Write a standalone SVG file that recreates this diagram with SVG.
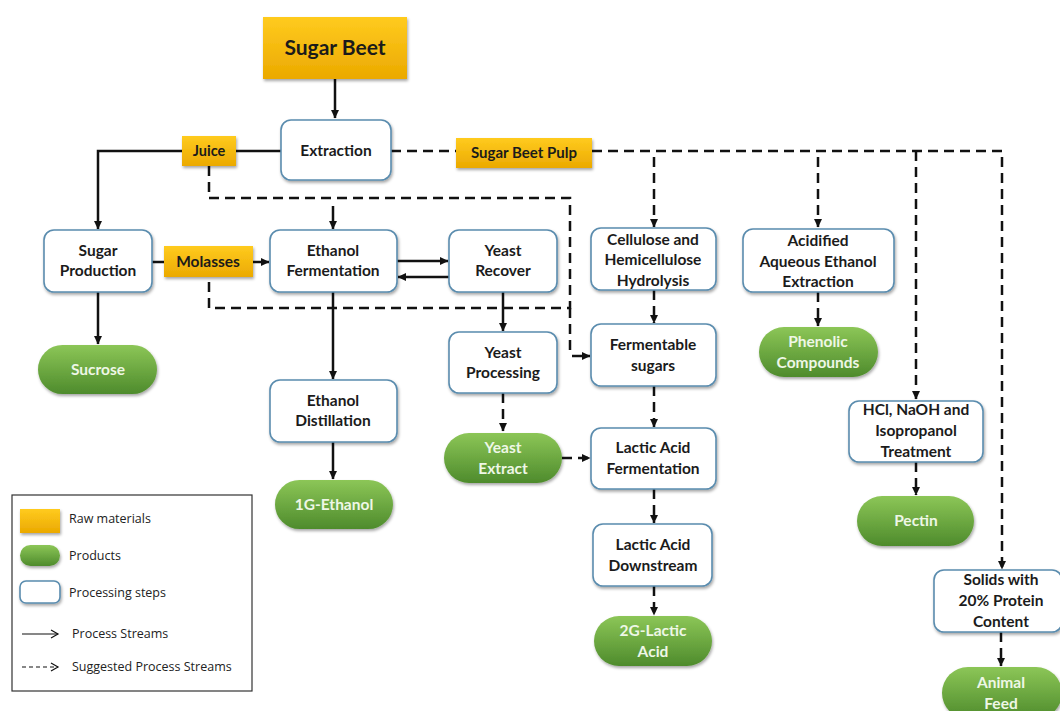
<svg xmlns="http://www.w3.org/2000/svg" width="1060" height="711" viewBox="0 0 1060 711">
<defs>
<linearGradient id="gy" x1="0" y1="0" x2="0" y2="1"><stop offset="0" stop-color="#FFCB1F"/><stop offset="1" stop-color="#EBA900"/></linearGradient>
<linearGradient id="gg" x1="0" y1="0" x2="0" y2="1"><stop offset="0" stop-color="#8CC657"/><stop offset="1" stop-color="#4E8B2C"/></linearGradient>
<filter id="sh" x="-20%" y="-20%" width="140%" height="150%"><feDropShadow dx="1" dy="2" stdDeviation="1.6" flood-color="#000" flood-opacity="0.35"/></filter>
<marker id="ah" markerUnits="userSpaceOnUse" markerWidth="9" markerHeight="9" refX="8" refY="4.5" orient="auto"><path d="M0,0.5 L8.5,4.5 L0,8.5 z" fill="#111"/></marker>
<marker id="oa" markerUnits="userSpaceOnUse" markerWidth="10" markerHeight="10" refX="8" refY="5" orient="auto"><path d="M1,1 L8,5 L1,9" fill="none" stroke="#111" stroke-width="1.2"/></marker>
</defs>
<style>
.raw{fill:url(#gy);filter:url(#sh)}
.prod{fill:url(#gg);filter:url(#sh)}
.step{fill:#fff;stroke:#5A8CAE;stroke-width:1.6;filter:url(#sh)}
.t{font-family:Lato,"Open Sans","Liberation Sans",sans-serif;font-weight:bold;font-size:15.5px;fill:#1b1b1b;text-anchor:middle}
.tp{font-family:Lato,"Open Sans","Liberation Sans",sans-serif;font-weight:bold;font-size:15.5px;fill:#EEF7E6;text-anchor:middle}
.lg{font-family:"Open Sans","Liberation Sans",sans-serif;font-size:12.5px;fill:#222}
.s{fill:none;stroke:#111;stroke-width:2.5}
.d{fill:none;stroke:#111;stroke-width:2.5;stroke-dasharray:10,6}
</style>
<rect width="1060" height="711" fill="#fff"/>

<g id="connectors">
<path class="s" d="M335,79 V118" marker-end="url(#ah)"/>
<path class="s" d="M281,151 H236"/>
<path class="s" d="M182,151 H98 V229" marker-end="url(#ah)"/>
<path class="s" d="M98,292 V344" marker-end="url(#ah)"/>
<path class="s" d="M152,262 H164"/>
<path class="s" d="M253,262 H269" marker-end="url(#ah)"/>
<path class="s" d="M397,261 H448" marker-end="url(#ah)"/>
<path class="s" d="M449,277 H398" marker-end="url(#ah)"/>
<path class="s" d="M333,292 V379" marker-end="url(#ah)"/>
<path class="s" d="M333,442 V479" marker-end="url(#ah)"/>
<path class="s" d="M503,292 V331" marker-end="url(#ah)"/>
<path class="d" d="M209,166 V198 H570 V308 H209 V278"/>
<path class="d" d="M570,308 V352"/>
<path class="s" d="M572,356 H590" marker-end="url(#ah)"/>
<path class="s" d="M333,206 V229" marker-end="url(#ah)"/>
<path class="d" d="M391,151 H456"/>
<path class="d" d="M592,151 H1002 V569" marker-end="url(#ah)"/>
<path class="d" d="M916,151 V399" marker-end="url(#ah)"/>
<path class="d" d="M654,157 V227" marker-end="url(#ah)"/>
<path class="d" d="M818,157 V227" marker-end="url(#ah)"/>
<path class="d" d="M654,290 V323" marker-end="url(#ah)"/>
<path class="d" d="M654,386 V427" marker-end="url(#ah)"/>
<path class="d" d="M654,489 V523" marker-end="url(#ah)"/>
<path class="d" d="M654,586 V615" marker-end="url(#ah)"/>
<path class="d" d="M818,292 V326" marker-end="url(#ah)"/>
<path class="d" d="M916,462 V495" marker-end="url(#ah)"/>
<path class="d" d="M1001,632 V666" marker-end="url(#ah)"/>
<path class="d" d="M503,393 V431" marker-end="url(#ah)"/>
<path class="d" d="M562,458 H590" marker-end="url(#ah)"/>
</g>

<g id="sugar-beet"><rect class="raw" x="263" y="17" width="144" height="62"/><text class="t" x="335" y="55" style="font-size:21px">Sugar Beet</text></g>
<g id="extraction"><rect class="step" x="281" y="120" width="110" height="60" rx="10"/><text class="t" x="336" y="156">Extraction</text></g>
<g id="juice"><rect class="raw" x="182" y="136" width="54" height="30"/><text class="t" x="209" y="156" style="font-size:14.5px">Juice</text></g>
<g id="sugar-beet-pulp"><rect class="raw" x="456" y="138" width="136" height="30"/><text class="t" x="524" y="158" style="font-size:15px">Sugar Beet Pulp</text></g>
<g id="sugar-production"><rect class="step" x="44" y="230" width="108" height="62" rx="10"/><text class="t" x="98" y="256">Sugar</text><text class="t" x="98" y="276">Production</text></g>
<g id="sucrose"><rect class="prod" x="38" y="345" width="119" height="49" rx="24.5"/><text class="tp" x="98" y="375">Sucrose</text></g>
<g id="molasses"><rect class="raw" x="164" y="246" width="89" height="31"/><text class="t" x="208" y="267">Molasses</text></g>
<g id="ethanol-fermentation"><rect class="step" x="270" y="230" width="127" height="62" rx="10"/><text class="t" x="333" y="256">Ethanol</text><text class="t" x="333" y="276">Fermentation</text></g>
<g id="yeast-recover"><rect class="step" x="449" y="230" width="108" height="62" rx="10"/><text class="t" x="503" y="256">Yeast</text><text class="t" x="503" y="276">Recover</text></g>
<g id="ethanol-distillation"><rect class="step" x="270" y="380" width="127" height="62" rx="10"/><text class="t" x="333" y="406">Ethanol</text><text class="t" x="333" y="426">Distillation</text></g>
<g id="ethanol-1g"><rect class="prod" x="275" y="480" width="118" height="49" rx="24.5"/><text class="tp" x="334" y="510">1G-Ethanol</text></g>
<g id="yeast-processing"><rect class="step" x="449" y="332" width="108" height="61" rx="10"/><text class="t" x="503" y="358">Yeast</text><text class="t" x="503" y="378">Processing</text></g>
<g id="yeast-extract"><rect class="prod" x="444" y="433" width="118" height="50" rx="25"/><text class="tp" x="503" y="453">Yeast</text><text class="tp" x="503" y="474">Extract</text></g>
<g id="cellulose-hydrolysis"><rect class="step" x="591" y="228" width="125" height="62" rx="10"/><text class="t" x="653" y="245">Cellulose and</text><text class="t" x="653" y="265">Hemicellulose</text><text class="t" x="653" y="286">Hydrolysis</text></g>
<g id="fermentable-sugars"><rect class="step" x="591" y="324" width="125" height="62" rx="10"/><text class="t" x="653" y="350">Fermentable</text><text class="t" x="653" y="371">sugars</text></g>
<g id="lactic-fermentation"><rect class="step" x="591" y="428" width="125" height="61" rx="10"/><text class="t" x="653" y="453">Lactic Acid</text><text class="t" x="653" y="474">Fermentation</text></g>
<g id="lactic-downstream"><rect class="step" x="593" y="524" width="119" height="62" rx="10"/><text class="t" x="653" y="550">Lactic Acid</text><text class="t" x="653" y="571">Downstream</text></g>
<g id="lactic-2g"><rect class="prod" x="594" y="616" width="118" height="50" rx="25"/><text class="tp" x="653" y="636">2G-Lactic</text><text class="tp" x="653" y="657">Acid</text></g>
<g id="acidified-extraction"><rect class="step" x="743" y="229" width="151" height="63" rx="10"/><text class="t" x="818" y="246">Acidified</text><text class="t" x="818" y="267">Aqueous Ethanol</text><text class="t" x="818" y="287">Extraction</text></g>
<g id="phenolic"><rect class="prod" x="759" y="327" width="119" height="50" rx="25"/><text class="tp" x="818" y="347">Phenolic</text><text class="tp" x="818" y="368">Compounds</text></g>
<g id="hcl-treatment"><rect class="step" x="849" y="401" width="134" height="61" rx="10"/><text class="t" x="916" y="415">HCl, NaOH and</text><text class="t" x="916" y="436">Isopropanol</text><text class="t" x="916" y="457">Treatment</text></g>
<g id="pectin"><rect class="prod" x="857" y="496" width="117" height="50" rx="25"/><text class="tp" x="916" y="526">Pectin</text></g>
<g id="solids"><rect class="step" x="934" y="570" width="128" height="62" rx="10"/><text class="t" x="1001" y="585">Solids with</text><text class="t" x="1001" y="606">20% Protein</text><text class="t" x="1001" y="627">Content</text></g>
<g id="animal-feed"><rect class="prod" x="942" y="667" width="120" height="52" rx="26"/><text class="tp" x="1001" y="688">Animal</text><text class="tp" x="1001" y="709">Feed</text></g>

<g id="legend">
<rect x="12" y="495" width="240" height="196" fill="#fff" stroke="#333" stroke-width="1.2"/>
<rect class="raw" x="20" y="509" width="40" height="24"/>
<text class="lg" x="69" y="523">Raw materials</text>
<rect class="prod" x="20" y="545" width="40" height="21" rx="10.5"/>
<text class="lg" x="69" y="560">Products</text>
<rect class="step" x="20" y="581" width="40" height="22" rx="6"/>
<text class="lg" x="69" y="597">Processing steps</text>
<path d="M22,634 H58" fill="none" stroke="#111" stroke-width="1.2" marker-end="url(#oa)"/>
<text class="lg" x="72" y="638">Process Streams</text>
<path d="M22,667 H58" fill="none" stroke="#111" stroke-width="1.2" stroke-dasharray="4,3" marker-end="url(#oa)"/>
<text class="lg" x="72" y="671">Suggested Process Streams</text>
</g>
</svg>
